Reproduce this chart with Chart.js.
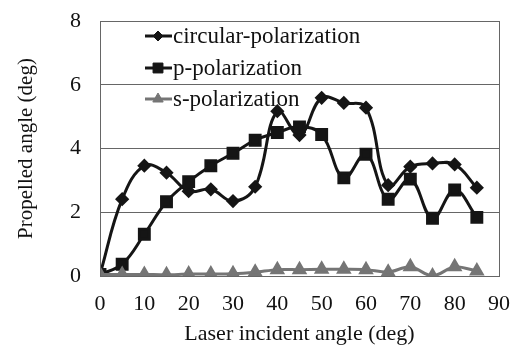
<!DOCTYPE html>
<html><head><meta charset="utf-8">
<script src="https://cdn.jsdelivr.net/npm/chart.js@4/dist/chart.umd.min.js"></script>
<style>html,body{margin:0;padding:0;background:#fff}#wrap{width:512px;height:345px}</style>
</head><body><div id="wrap"><canvas id="c" width="512" height="345"></canvas></div>
<script>
const angles = [0,5,10,15,20,25,30,35,40,45,50,55,60,65,70,75,80,85];
const circular = [0.05,2.41,3.46,3.24,2.66,2.72,2.35,2.80,5.17,4.42,5.59,5.43,5.28,2.85,3.43,3.53,3.50,2.77];
const pPol = [0.05,0.37,1.31,2.33,2.96,3.46,3.85,4.26,4.50,4.68,4.44,3.08,3.82,2.41,3.04,1.81,2.70,1.84];
const sPol = [0.05,0.05,0.05,0.04,0.06,0.06,0.07,0.12,0.2,0.2,0.21,0.21,0.2,0.12,0.29,0.0,0.29,0.16];
const seriesNames = ['circular-polarization','p-polarization','s-polarization'];
const xTicks = [0,10,20,30,40,50,60,70,80,90];
const yTicks = [0,2,4,6,8];

const FONT = "'Liberation Serif', 'Times New Roman', serif";
const pts = arr => arr.map((v,i)=>({x:angles[i], y:v}));
const noPad = s => { s.paddingTop = 0; s.paddingBottom = 0; s.paddingLeft = 0; s.paddingRight = 0; };

const legendPlugin = {
  id:'inLegend',
  afterDatasetsDraw(chart){
    const ctx = chart.ctx;
    const rows = [36,68,99];
    chart.data.datasets.forEach((ds,i)=>{
      const y = rows[i];
      ctx.save();
      ctx.strokeStyle = ds.borderColor; ctx.lineWidth = 3;
      ctx.beginPath(); ctx.moveTo(145,y); ctx.lineTo(172,y); ctx.stroke();
      ctx.fillStyle = ds.backgroundColor; ctx.lineWidth = 1;
      Chart.helpers.drawPoint(ctx,{pointStyle:ds.pointStyle, radius:ds.pointRadius, borderWidth:1},158,y);
      ctx.fillStyle = '#111';
      ctx.font = "23px " + FONT;
      ctx.textBaseline = 'middle';
      ctx.fillText(ds.label, 173, y+1);
      ctx.restore();
    });
  }
};
const borderPlugin = {
  id:'box',
  afterDraw(chart){
    const a = chart.chartArea, ctx = chart.ctx;
    ctx.save(); ctx.strokeStyle='#666'; ctx.lineWidth=1;
    ctx.strokeRect(Math.round(a.left)+0.5, Math.round(a.top)+0.5, Math.round(a.right-a.left), Math.round(a.bottom-a.top));
    ctx.restore();
  }
};

new Chart(document.getElementById('c'),{
  type:'line',
  data:{datasets:[
    {label:seriesNames[0], data:pts(circular), borderColor:'#151515', backgroundColor:'#151515', borderWidth:3, pointStyle:'rectRot', pointRadius:5, tension:0.4, order:2},
    {label:seriesNames[1], data:pts(pPol), borderColor:'#151515', backgroundColor:'#151515', borderWidth:3, pointStyle:'rect', pointRadius:7, tension:0.4, order:1},
    {label:seriesNames[2], data:pts(sPol), borderColor:'#757575', backgroundColor:'#757575', borderWidth:3, pointStyle:'triangle', pointRadius:6, tension:0.3, order:0}
  ]},
  options:{
    responsive:false, animation:false,
    layout:{padding:{top:21,right:13,left:14,bottom:0}},
    plugins:{legend:{display:false}, tooltip:{enabled:false}},
    scales:{
      x:{type:'linear', min:0, max:90,
        afterBuildTicks(s){ s.ticks = xTicks.map(v=>({value:v})); },
        afterFit(s){ s.height = 69; noPad(s); },
        grid:{display:false, drawTicks:false},
        border:{display:true,color:'#666'},
        ticks:{font:{family:FONT,size:22}, color:'#111', padding:15, maxRotation:0},
        title:{display:true, text:'Laser incident angle (deg)', font:{family:FONT,size:22}, color:'#111', padding:{top:0,bottom:-2}}
      },
      y:{min:0, max:8,
        afterBuildTicks(s){ s.ticks = yTicks.map(v=>({value:v})); },
        afterFit(s){ s.width = 86; noPad(s); },
        grid:{color:'#666', drawTicks:false, lineWidth:1},
        border:{display:true,color:'#666'},
        ticks:{font:{family:FONT,size:22}, color:'#111', padding:19},
        title:{display:true, text:'Propelled angle (deg)', font:{family:FONT,size:21}, color:'#111', padding:{top:0,bottom:0}}
      }
    }
  },
  plugins:[legendPlugin, borderPlugin]
});
</script></body></html>
